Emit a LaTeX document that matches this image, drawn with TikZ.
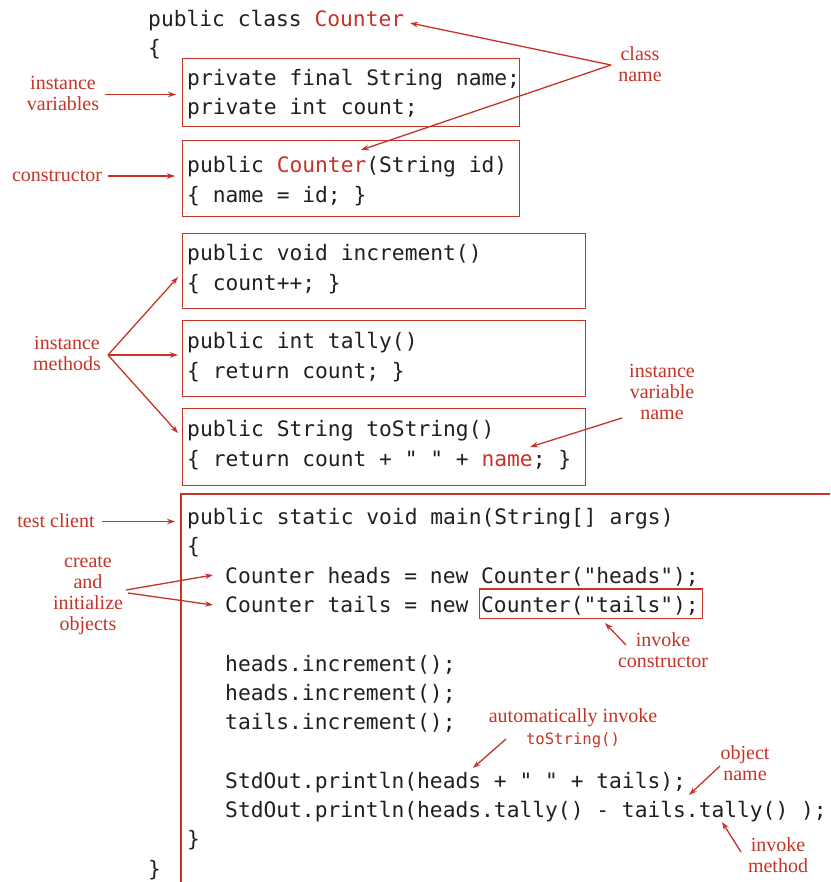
\documentclass[tikz,border=0pt]{standalone}
\usepackage{fontspec}
\setmainfont{Liberation Serif}
\newfontfamily\codefam{DejaVu Sans Mono}
\usetikzlibrary{arrows.meta}
\definecolor{myred}{RGB}{196,52,40}
\definecolor{codeblack}{RGB}{35,31,32}
\newcommand{\codefont}{\codefam\fontsize{21.26}{25}\selectfont}
\newcommand{\smallcode}{\codefam\fontsize{15.6}{18}\selectfont}
\newcommand{\lblfont}{\fontsize{20}{21}\selectfont}
\newcommand{\rd}[1]{\textcolor{myred}{#1}}
\tikzset{
  code/.style={font=\codefont, text=codeblack, anchor=base west, inner sep=0pt},
  lbl/.style={font=\lblfont, text=myred, align=center, inner sep=0pt},
  arr/.style={draw=myred, line width=1.3pt, -{Stealth[length=8pt,width=5.5pt]}},
  cbox/.style={draw=myred, line width=1.2pt, inner sep=0pt, anchor=north west}
}
\begin{document}
\begin{tikzpicture}[x=1pt,y=-1pt]
\fill[white] (0,0) rectangle (830,882);
\useasboundingbox (0,0) rectangle (830,882);

% boxes
\node[cbox, minimum width=337pt, minimum height=68pt] (box1) at (182,58) {};
\node[cbox, minimum width=337pt, minimum height=76pt] (box2) at (182,140) {};
\node[cbox, minimum width=403pt, minimum height=75pt] (box3) at (182,233) {};
\node[cbox, minimum width=403pt, minimum height=76pt] (box4) at (182,320) {};
\node[cbox, minimum width=403pt, minimum height=77pt] (box5) at (182,408) {};
\node[cbox, minimum width=223pt, minimum height=29.5pt] (box6) at (478.7,588.3) {};
\coordinate (mtr) at (830,494);
\coordinate (mtl) at (181,494);
\coordinate (mbl) at (181,882);
\draw[myred, line width=1.2pt] (mtr) -- (mtl) -- (mbl);

% code lines
\node[code] (c1) at (148,26.5) {public class \rd{Counter}};
\node[code] (c2) at (148,55.8) {\{};
\node[code] (c3) at (187,85.1) {private final String name;};
\node[code] (c4) at (187,114.4) {private int count;};
\node[code] (c6) at (187,173.0) {public \rd{Counter}(String id)};
\node[code] (c7) at (187,202.3) {\{ name = id; \}};
\node[code] (c9) at (187,260.9) {public void increment()};
\node[code] (c10) at (187,290.2) {\{ count++; \}};
\node[code] (c12) at (187,348.8) {public int tally()};
\node[code] (c13) at (187,378.1) {\{ return count; \}};
\node[code] (c15) at (187,436.7) {public String toString()};
\node[code] (c16) at (187,466.0) {\{ return count + " " + \rd{name}; \}};
\node[code] (c18) at (187,524.6) {public static void main(String[] args)};
\node[code] (c19) at (187,553.9) {\{};
\node[code] (c20) at (225,583.2) {Counter heads = new Counter("heads");};
\node[code] (c21) at (225,612.5) {Counter tails = new Counter("tails");};
\node[code] (c23) at (225,671.1) {heads.increment();};
\node[code] (c24) at (225,700.4) {heads.increment();};
\node[code] (c25) at (225,729.7) {tails.increment();};
\node[code] (c27) at (225,788.3) {StdOut.println(heads + " " + tails);};
\node[code] (c28) at (225,817.6) {StdOut.println(heads.tally() - tails.tally() );};
\node[code] (c29) at (187,846.9) {\}};
\node[code] (c30) at (148,876.2) {\}};

% labels
\node[lbl] (lcn) at (640,64.5) {class\\name};
\node[lbl] (liv) at (63,93) {instance\\variables};
\node[lbl] (lcons) at (57,176) {constructor};
\node[lbl] (lim) at (67,353) {instance\\methods};
\node[lbl] (livn) at (662,392) {instance\\variable\\name};
\node[lbl] (ltc) at (56,521) {test client};
\node[lbl] (lci) at (88,595) {create\\and\\initialize\\objects};
\node[lbl] (lic) at (663,650) {invoke\\constructor};
\node[lbl] (lai) at (573,728) {automatically invoke\\[1pt]{\smallcode\textcolor{myred}{toString()}}};
\node[lbl] (lon) at (745,763) {object\\name};
\node[lbl] (lim2) at (778,855) {invoke\\method};

% arrow endpoints
\coordinate (cnA) at (611,65);
\coordinate (cnT1) at (410,23);
\coordinate (cnT2) at (361,150);
\coordinate (ivA) at (105,94.5);
\coordinate (ivT) at (176,94.5);
\coordinate (consA) at (108,176);
\coordinate (consT) at (175,176);
\coordinate (imA) at (108,355);
\coordinate (imT1) at (178,277);
\coordinate (imT2) at (178,355);
\coordinate (imT3) at (178,433);
\coordinate (ivnA) at (622,418);
\coordinate (ivnT) at (530,447);
\coordinate (tcA) at (102,521.5);
\coordinate (tcT) at (175,521.5);
\coordinate (ciA1) at (126,590);
\coordinate (ciT1) at (213,575);
\coordinate (ciA2) at (128,593);
\coordinate (ciT2) at (213,605);
\coordinate (icA) at (626,645);
\coordinate (icT) at (605,623);
\coordinate (aiA) at (506,739);
\coordinate (aiT) at (473,768);
\coordinate (onA) at (720,766);
\coordinate (onT) at (689,795);
\coordinate (imbA) at (741,852);
\coordinate (imbT) at (722,822);

\draw[arr] (cnA) -- (cnT1);
\draw[arr] (cnA) -- (cnT2);
\draw[arr] (ivA) -- (ivT);
\draw[arr] (consA) -- (consT);
\draw[arr] (imA) -- (imT1);
\draw[arr] (imA) -- (imT2);
\draw[arr] (imA) -- (imT3);
\draw[arr] (ivnA) -- (ivnT);
\draw[arr] (tcA) -- (tcT);
\draw[arr] (ciA1) -- (ciT1);
\draw[arr] (ciA2) -- (ciT2);
\draw[arr] (icA) -- (icT);
\draw[arr] (aiA) -- (aiT);
\draw[arr] (onA) -- (onT);
\draw[arr] (imbA) -- (imbT);
\end{tikzpicture}
\end{document}
